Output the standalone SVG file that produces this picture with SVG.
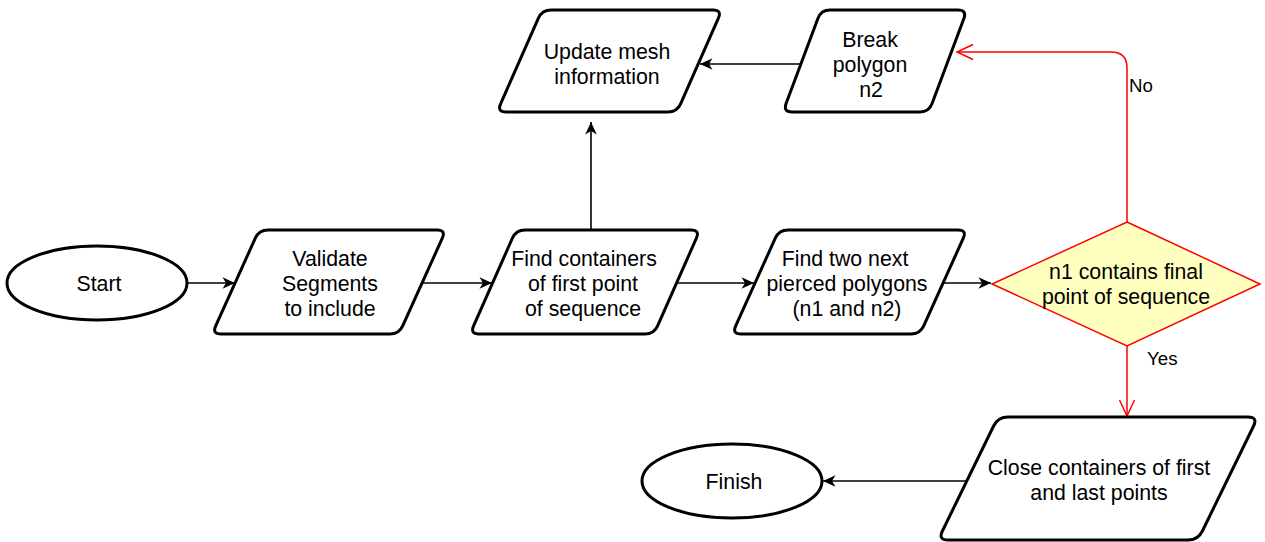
<svg xmlns="http://www.w3.org/2000/svg" width="1265" height="542" viewBox="0 0 1265 542">
  <defs>
    <style>
      .shape { fill: #ffffff; stroke: #000000; stroke-width: 3; stroke-linejoin: round; }
      .decision { fill: #ffffc0; stroke: #ff0000; stroke-width: 1.5; }
      .label { font-family: "Liberation Sans", Helvetica, Arial, sans-serif; font-size: 21.3px; fill: #000000; text-anchor: middle; }
      .edge-label { font-family: "Liberation Sans", Helvetica, Arial, sans-serif; font-size: 18.7px; fill: #000000; }
      .flow { fill: none; stroke: #000000; stroke-width: 1.6; }
      .branch { fill: none; stroke: #ff0000; stroke-width: 1.5; }
    </style>
    <marker id="arrow" markerUnits="userSpaceOnUse" markerWidth="16" markerHeight="16" viewBox="0 0 16 16" refX="14" refY="8" orient="auto">
      <path d="M14,8 L1.5,2.2 L5,8 L1.5,13.8 Z" fill="#000000"/>
    </marker>
    <marker id="open-arrow" markerUnits="userSpaceOnUse" markerWidth="20" markerHeight="20" viewBox="0 0 20 20" refX="18" refY="10" orient="auto">
      <path d="M2,2.5 L18,10 L2,17.5" fill="none" stroke="#ff0000" stroke-width="1.5"/>
    </marker>
  </defs>

  <rect width="1265" height="542" fill="#ffffff"/>

  <!-- connectors -->
  <g id="connectors">
    <path class="flow" d="M187,283 L235,283" marker-end="url(#arrow)"/>
    <path class="flow" d="M422,283 L492,283" marker-end="url(#arrow)"/>
    <path class="flow" d="M677,283 L754,283" marker-end="url(#arrow)"/>
    <path class="flow" d="M943,283 L991,283" marker-end="url(#arrow)"/>
    <path class="flow" d="M591,230 L591,122" marker-end="url(#arrow)"/>
    <path class="flow" d="M801,64 L700,64" marker-end="url(#arrow)"/>
    <path class="flow" d="M966,481 L823,481" marker-end="url(#arrow)"/>
    <path class="branch" d="M1127,346 L1127,416" marker-end="url(#open-arrow)"/>
    <path class="branch" d="M1127,222 L1127,68 Q1127,52 1111,52 L957,52" marker-end="url(#open-arrow)"/>
    <text class="edge-label" x="1147" y="364.5">Yes</text>
    <text class="edge-label" x="1129" y="92">No</text>
  </g>

  <!-- start -->
  <g id="start">
    <ellipse class="shape" cx="97" cy="283" rx="90" ry="37"/>
    <text class="label" x="99" y="290.5">Start</text>
  </g>

  <!-- validate segments -->
  <g id="validate">
    <path class="shape" d="M268,230 L437,230 Q446,230 442.3,238.2 L402.7,325.8 Q399,334 390,334 L221,334 Q212,334 215.7,325.8 L255.3,238.2 Q259,230 268,230 Z"/>
    <text class="label" x="330" y="265.5">Validate</text>
    <text class="label" x="330" y="290.5">Segments</text>
    <text class="label" x="330" y="315.5">to include</text>
  </g>

  <!-- find containers -->
  <g id="find-containers">
    <path class="shape" d="M525,230 L691,230 Q700,230 696.4,238.2 L657.6,325.8 Q654,334 645,334 L479,334 Q470,334 473.6,325.8 L512.4,238.2 Q516,230 525,230 Z"/>
    <text class="label" x="584" y="265.5">Find containers</text>
    <text class="label" x="583" y="290.5">of first point</text>
    <text class="label" x="583" y="315.5">of sequence</text>
  </g>

  <!-- find pierced polygons -->
  <g id="find-pierced">
    <path class="shape" d="M788,230 L958,230 Q967,230 963.3,238.2 L923.7,325.8 Q920,334 911,334 L741,334 Q732,334 735.7,325.8 L775.3,238.2 Q779,230 788,230 Z"/>
    <text class="label" x="845" y="265.5">Find two next</text>
    <text class="label" x="847" y="290.5">pierced polygons</text>
    <text class="label" x="847" y="315.5">(n1 and n2)</text>
  </g>

  <!-- decision -->
  <g id="decision">
    <polygon class="decision" points="1127,222 1260,284 1127,346 992,284"/>
    <text class="label" x="1126" y="278.5">n1 contains final</text>
    <text class="label" x="1126" y="303.5">point of sequence</text>
  </g>

  <!-- break polygon -->
  <g id="break-polygon">
    <path class="shape" d="M830,10 L958,10 Q967,10 963.9,18.4 L932.1,103.6 Q929,112 920,112 L792,112 Q783,112 786.1,103.6 L817.9,18.4 Q821,10 830,10 Z"/>
    <text class="label" x="870" y="46.5">Break</text>
    <text class="label" x="870" y="71.5">polygon</text>
    <text class="label" x="871" y="96.5">n2</text>
  </g>

  <!-- update mesh -->
  <g id="update-mesh">
    <path class="shape" d="M551,10 L713,10 Q722,10 718.4,18.2 L680.6,103.8 Q677,112 668,112 L506,112 Q497,112 500.6,103.8 L538.4,18.2 Q542,10 551,10 Z"/>
    <text class="label" x="607" y="58.5">Update mesh</text>
    <text class="label" x="607" y="83.5">information</text>
  </g>

  <!-- close containers -->
  <g id="close-containers">
    <path class="shape" d="M1008,417 L1248,417 Q1258,417 1253.6,426 L1202.4,531 Q1198,540 1188,540 L948,540 Q938,540 942.4,531 L993.6,426 Q998,417 1008,417 Z"/>
    <text class="label" x="1099" y="474.5">Close containers of first</text>
    <text class="label" x="1099" y="499.5">and last points</text>
  </g>

  <!-- finish -->
  <g id="finish">
    <ellipse class="shape" cx="732" cy="481" rx="90" ry="37"/>
    <text class="label" x="734" y="488.5">Finish</text>
  </g>
</svg>
